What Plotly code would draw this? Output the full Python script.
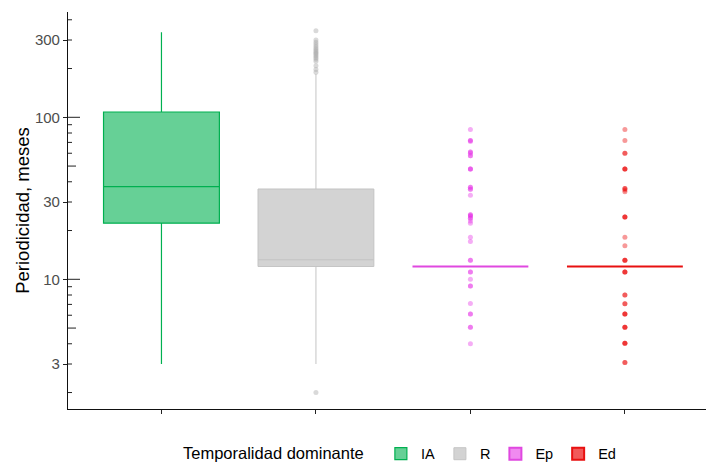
import plotly.graph_objects as go

# ---------------- data ----------------
categories = ["IA", "R", "Ep", "Ed"]

q1_vals = [22.2, 12.0, 12.0, 12.0]
median_vals = [37.3, 13.2, 12.0, 12.0]
q3_vals = [107.8, 36.1, 12.0, 12.0]
lower_whisker = [3.0, 3.0, 12.0, 12.0]
upper_whisker = [335.0, 185.0, 12.0, 12.0]

outliers_R = [342, 300, 291, 282, 275, 268, 262, 257, 252, 248, 243, 238, 233,
              228, 222, 208, 197, 190, 2.0]
outliers_Ep = [84, 72, 72, 71, 61, 61, 60, 58, 58, 48, 48, 48, 37, 37, 36, 36, 33,
               25, 25, 24.6, 24.6, 23.8, 23.8, 22.9, 22.2, 18.2, 17.1, 13.1, 13.1,
               11.1, 11.1, 10, 9.1, 9.1, 7.1, 6.1, 6.1, 5.05, 5.05, 4.0]
outliers_Ed = [84, 72, 60, 60, 48, 48, 48, 36.4, 36.4, 35.6, 34.7, 24.2, 24.2, 24.2,
               18.2, 16.1, 13.1, 13.1, 13.1, 11.1, 11.1, 11.1, 8.0, 8.0, 7.07, 7.07,
               6.1, 6.1, 6.1, 5.05, 5.05, 5.05, 4.03, 4.03, 4.03, 3.06, 3.06]

y_tickvals = [3, 10, 30, 100, 300]
y_ticktext = ["3", "10", "30", "100", "300"]
logtick_multipliers = [2, 3, 4, 5, 6, 7, 8, 9, 10]
logtick_decades = [1, 10, 100]

# ---------------- styles ----------------
line_colors = ["#00B050", "#C4C4C4", "#E048E0", "#E81010"]
line_widths = [1.2, 1.0, 2.0, 2.0]
fill_colors = ["rgba(0,176,80,0.6)", "rgba(181,181,181,0.6)",
               "rgba(230,60,230,0.6)", "rgba(235,0,0,0.65)"]
point_colors = [None, "rgba(170,170,170,0.45)", "rgba(229,51,229,0.4)", "rgba(235,0,0,0.4)"]
FONT = "Liberation Sans, Arial, sans-serif"

fig = go.Figure()

for i, cat in enumerate(categories):
    fig.add_trace(go.Box(
        x=[cat], q1=[q1_vals[i]], median=[median_vals[i]], q3=[q3_vals[i]],
        lowerfence=[lower_whisker[i]], upperfence=[upper_whisker[i]],
        name=cat, boxpoints=False, whiskerwidth=0, width=0.75,
        line=dict(color=line_colors[i], width=line_widths[i]),
        fillcolor=fill_colors[i], hoverinfo="skip", showlegend=True,
    ))

for cat, vals, col in [("R", outliers_R, point_colors[1]),
                       ("Ep", outliers_Ep, point_colors[2]),
                       ("Ed", outliers_Ed, point_colors[3])]:
    fig.add_trace(go.Scatter(
        x=[cat] * len(vals), y=vals, mode="markers",
        marker=dict(size=5, color=col, line=dict(width=0)),
        showlegend=False, hoverinfo="skip",
    ))

# annotation_logticks-like inner ticks on the left axis
plot_w = 706 - 68
shapes = []
for d in logtick_decades:
    for m in logtick_multipliers:
        v = m * d
        if v < 1.6 or v > 440:
            continue
        if m == 10:
            ln = 12
        elif m == 5:
            ln = 8
        else:
            ln = 4
        shapes.append(dict(type="line", xref="paper", yref="y",
                           x0=0, x1=ln / plot_w, y0=v, y1=v,
                           line=dict(color="#222222", width=1)))

fig.update_layout(
    width=706, height=464,
    margin=dict(l=68, r=0, t=12, b=55, autoexpand=False),
    paper_bgcolor="white", plot_bgcolor="white",
    boxmode="overlay",
    font=dict(family=FONT, color="black"),
    shapes=shapes,
    showlegend=True,
    legend=dict(
        orientation="h", xref="container", yref="container",
        x=0.568, xanchor="center", y=0.022, yanchor="middle",
        title=dict(text="Temporalidad dominante\u00a0\u00a0", font=dict(size=16.5, color="black")),
        font=dict(size=14.5, color="black"),
        traceorder="normal",
    ),
    xaxis=dict(
        type="category", categoryorder="array", categoryarray=categories,
        range=[-0.605, 3.525], showticklabels=False, automargin=False,
        ticks="outside", ticklen=4, tickcolor="#222222", tickwidth=1,
        showline=True, linecolor="#111111", linewidth=1.1,
        showgrid=False, zeroline=False,
    ),
    yaxis=dict(
        type="log", range=[0.1994, 2.650], automargin=True,
        tickmode="array", tickvals=y_tickvals, ticktext=y_ticktext,
        ticks="outside", ticklen=4, tickcolor="#222222", tickwidth=1,
        tickfont=dict(size=15, color="#4D4D4D"),
        showline=True, linecolor="#111111", linewidth=1.1,
        showgrid=False, zeroline=False,
        title=dict(text="Periodicidad, meses", font=dict(size=18.5, color="black"), standoff=0),
    ),
)

fig.write_html("out.html", config={"displayModeBar": False},
               post_script="document.body.style.margin='0px';")
